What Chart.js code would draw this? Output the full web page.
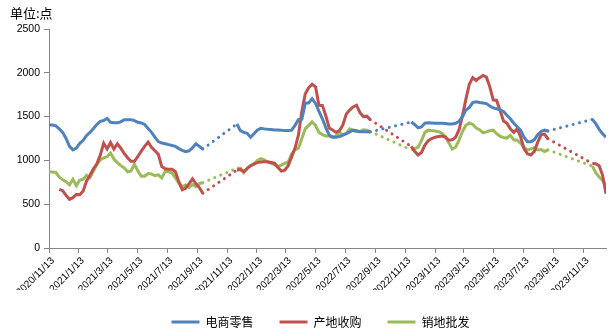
<!DOCTYPE html>
<html>
<head>
<meta charset="utf-8">
<script src="https://cdn.jsdelivr.net/npm/chart.js@4.4.1/dist/chart.umd.min.js"></script>
<style>
  html, body { margin: 0; padding: 0; background: #fff; }
  #wrap { width: 608px; height: 335px; position: relative; }
</style>
</head>
<body>
<div id="wrap"><canvas id="chart"></canvas></div>
<script>
// weekly series, first week = 2020/11/13, null = no quote that week
const startDate = '2020/11/13';

const seriesNames = ['电商零售', '产地收购', '销地批发'];
const seriesColors = ['#4F81BD', '#C0504D', '#9BBB59'];

const retail = [
  1404, 1404, 1395, 1360, 1320, 1250, 1160, 1120, 1140, 1195,
  1230, 1285, 1320, 1365, 1410, 1445, 1455, 1480, 1435, 1430,
  1430, 1440, 1465, 1465, 1465, 1455, 1435, 1428, 1410, 1365,
  1320, 1265, 1215, 1198, 1190, 1180, 1170, 1160, 1135, 1115,
  1100, 1110, 1145, 1190, 1160, 1130,
  null, null, null, null, null, null, null, null, null,
  1416, 1340, 1320, 1309, 1265,
  1305, 1348, 1366, 1360, 1355, 1352, 1348, 1347, 1345, 1340,
  1340, 1345, 1400, 1465, 1470, 1655, 1655, 1705, 1650, 1560,
  1475, 1375, 1290, 1264, 1264, 1272, 1288, 1305, 1325, 1345,
  1338, 1328, 1328, 1328, 1325,
  null, null, null, null, null, null, null, null, null, null, null,
  1438, 1410, 1372, 1382,
  1425, 1430, 1428, 1425, 1423, 1423, 1422, 1416, 1416, 1423,
  1445, 1500, 1575, 1605, 1660, 1670, 1662, 1655, 1648, 1620,
  1600, 1590, 1577, 1558, 1515, 1475, 1425, 1385, 1345, 1265,
  1214, 1214, 1235, 1292, 1330, 1345, 1335,
  null, null, null, null, null, null, null, null, null, null, null, null,
  1468, 1420, 1355, 1305, 1265
];

const origin = [
  null, null, null, 670, 655, 600, 556, 575, 612, 608,
  650, 765, 830, 905, 960, 1060, 1195, 1130, 1205, 1130,
  1190, 1140, 1080, 1030, 990, 990, 1045, 1105, 1160, 1210,
  1150, 1110, 1070, 930, 905, 900, 898, 870, 755, 665,
  682, 735, 790, 735, 690, 625,
  null, null, null, null, null, null, null, null, null,
  890, 895, 872, 910, 940,
  960, 975, 983, 985, 984, 976, 968, 920, 878, 888,
  940, 1040, 1140, 1290, 1560, 1760, 1830, 1870, 1840, 1630,
  1628, 1510, 1370, 1347, 1320, 1340, 1405, 1530, 1575, 1610,
  1630, 1545, 1500, 1505, 1465,
  null, null, null, null, null, null, null, null, null, null, null,
  1160, 1105, 1062, 1090,
  1175, 1225, 1250, 1265, 1273, 1279, 1265, 1230, 1235, 1265,
  1350, 1510, 1700, 1870, 1945, 1912, 1945, 1970, 1950, 1840,
  1690, 1685, 1570, 1450, 1425, 1360, 1320, 1360, 1270, 1135,
  1075, 1062, 1100, 1205, 1292, 1300, 1248,
  null, null, null, null, null, null, null, null, null, null, null, null,
  965, 962, 940, 830, 620
];

const wholesale = [
  870, 868, 862, 810, 778, 757, 720, 784, 712, 776,
  784, 830, 805, 880, 950, 1005, 1030, 1042, 1085, 1015,
  975, 940, 915, 870, 880, 955, 880, 820, 820, 850,
  845, 825, 835, 800, 875, 870, 855, 800, 740, 700,
  720, 690, 725, 700, 735, 745,
  null, null, null, null, null, null, null, null, null,
  910, 910, 860, 905, 940,
  960, 1000, 1020, 1005, 980, 968, 950, 932, 945, 968,
  980, 1075, 1120, 1140, 1250, 1360, 1400, 1440, 1400, 1320,
  1295, 1279, 1279, 1268, 1280, 1320, 1290, 1310, 1360, 1340,
  1328, 1330, 1350, 1345, 1330,
  null, null, null, null, null, null, null, null, null, null, null,
  1120, 1135, 1150, 1225,
  1320, 1345, 1340, 1335, 1328, 1310, 1270, 1200, 1130, 1150,
  1230, 1330, 1400, 1428, 1410, 1370, 1350, 1315, 1325, 1338,
  1345, 1305, 1275, 1262, 1255, 1285, 1235, 1230, 1195, 1150,
  1120, 1132, 1145, 1120, 1125, 1102, 1120,
  null, null, null, null, null, null, null, null, null, null, null, null,
  935, 860, 810, 770, 720
];

const xTickLabels = [
  '2020/11/13', '2021/1/13', '2021/3/13', '2021/5/13', '2021/7/13', '2021/9/13',
  '2021/11/13', '2022/1/13', '2022/3/13', '2022/5/13', '2022/7/13', '2022/9/13',
  '2022/11/13', '2023/1/13', '2023/3/13', '2023/5/13', '2023/7/13', '2023/9/13',
  '2023/11/13'
];
const yTicks = [0, 500, 1000, 1500, 2000, 2500];

// days since startDate
function dayOf(s) {
  const p = s.split('/').map(Number);
  const q = startDate.split('/').map(Number);
  return Math.round((Date.UTC(p[0], p[1] - 1, p[2]) - Date.UTC(q[0], q[1] - 1, q[2])) / 86400000);
}

function toPoints(arr) {
  return arr.map((v, i) => ({ x: i * 7, y: v }));
}

// dotted line across the weeks with no quote
const gapDots = (ctx, val) => (ctx.p0.skip || ctx.p1.skip) ? val : undefined;

const datasets = [retail, origin, wholesale].map((arr, k) => ({
  label: seriesNames[k],
  data: toPoints(arr),
  borderColor: seriesColors[k],
  backgroundColor: seriesColors[k],
  borderWidth: 3,
  pointRadius: 0,
  pointHoverRadius: 0,
  pointStyle: 'line',
  tension: 0,
  spanGaps: true,
  segment: {
    borderDash: ctx => gapDots(ctx, [0.1, 6.4]),
    borderCapStyle: ctx => gapDots(ctx, 'round')
  }
}));

const unitLabel = {
  id: 'unitLabel',
  afterDraw(chart) {
    const c = chart.ctx;
    c.save();
    c.font = "13px 'Noto Sans CJK SC', sans-serif";
    c.fillStyle = '#000';
    c.textBaseline = 'middle';
    c.textAlign = 'left';
    c.fillText('单位:点', 10, 13);
    c.restore();
  }
};

// nudge the legend row a little to the left
const legendShift = {
  id: 'legendShift',
  afterLayout(chart) {
    if (chart.legend) {
      chart.legend.left -= 7;
      chart.legend.right -= 7;
    }
  }
};

Chart.defaults.font.family = "'Liberation Sans', 'Noto Sans CJK SC', sans-serif";
Chart.defaults.color = '#000';

const lastDay = (retail.length - 1) * 7;

new Chart(document.getElementById('chart'), {
  type: 'line',
  data: { datasets: datasets },
  options: {
    responsive: true,
    maintainAspectRatio: false,
    animation: false,
    layout: { padding: { top: 29, right: 2, bottom: -3, left: 0 } },
    plugins: {
      tooltip: { enabled: false },
      legend: {
        position: 'bottom',
        fullSize: false,
        labels: {
          usePointStyle: true,
          pointStyleWidth: 28,
          padding: 26,
          font: { size: 12, family: "'Noto Sans CJK SC', sans-serif" },
          color: '#000'
        }
      }
    },
    scales: {
      x: {
        type: 'linear',
        min: 0,
        max: lastDay,
        bounds: 'data',
        afterBuildTicks: scale => {
          scale.ticks = xTickLabels.map(s => ({ value: dayOf(s) }));
        },
        afterFit: scale => { scale.height = 42; },
        grid: { drawOnChartArea: false, drawTicks: true, tickLength: 5, color: '#868686' },
        border: { color: '#868686', width: 1 },
        ticks: {
          autoSkip: false,
          minRotation: 45,
          maxRotation: 45,
          padding: 2,
          labelOffset: 4,
          font: { size: 10 },
          color: '#000',
          callback: (v, i) => xTickLabels[i]
        }
      },
      y: {
        min: 0,
        max: 2500,
        afterBuildTicks: scale => {
          scale.ticks = yTicks.map(v => ({ value: v }));
        },
        afterFit: scale => { scale.width = 49; },
        grid: { drawOnChartArea: false, drawTicks: true, tickLength: 5, color: '#868686' },
        border: { color: '#868686', width: 1 },
        ticks: {
          padding: 4,
          font: { size: 10.5 },
          color: '#000',
          callback: v => String(v)
        }
      }
    }
  },
  plugins: [unitLabel, legendShift]
});
</script>
</body>
</html>
